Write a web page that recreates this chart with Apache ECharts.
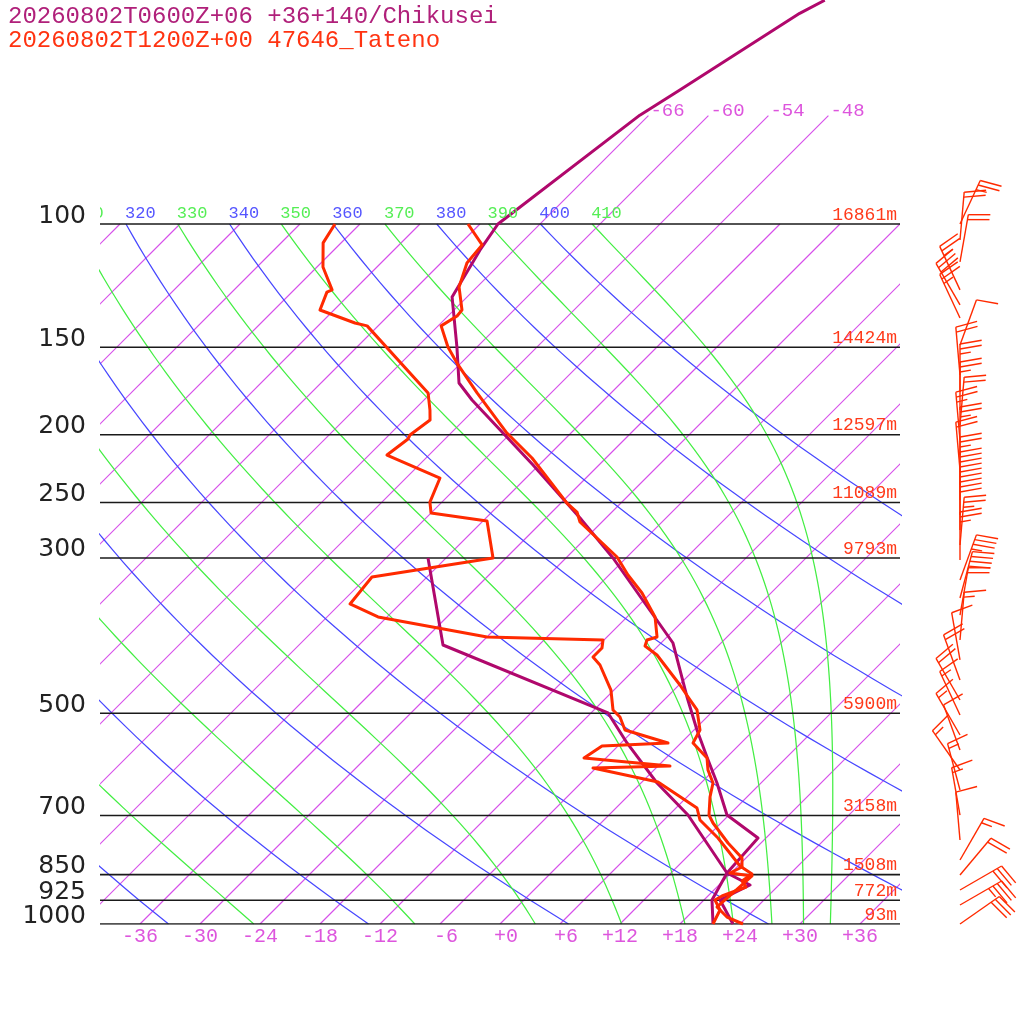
<!DOCTYPE html>
<html>
<head>
<meta charset="utf-8">
<script src="https://cdn.jsdelivr.net/npm/echarts@6.0.0/dist/echarts.min.js"></script>
<style>
  html, body { margin: 0; padding: 0; background: #fff; }
  #main { width: 1024px; height: 1024px; }
</style>
</head>
<body>
<div id="main"></div>
<script>
// titles
const titleModel = '20260802T0600Z+06 +36+140/Chikusei';
const titleObs = '20260802T1200Z+00 47646_Tateno';

// diagram frame
const pLevels = [100, 150, 200, 250, 300, 500, 700, 850, 925, 1000];
const heights = ['16861m', '14424m', '12597m', '11089m', '9793m', '5900m', '3158m', '1508m', '772m', '93m'];
const tempTicks = [-36, -30, -24, -18, -12, -6, 0, 6, 12, 18, 24, 30, 36];
const isotherms = [-108, -102, -96, -90, -84, -78, -72, -66, -60, -54, -48, -42, -36, -30, -24, -18, -12, -6, 0, 6, 12, 18, 24, 30, 36];
const topIsotherms = [-66, -60, -54, -48];
const thetaDry = [240, 260, 280, 300, 320, 340, 360, 380, 400];
const thetaMoist = [250, 270, 290, 310, 330, 350, 370, 390, 410];

// 47646 Tateno (observed)
const obsTempP = [1000, 977.3, 945.6, 903.0, 853.9, 845.6, 829.0, 804.8, 766.1, 717.3, 698.7, 658.5, 628.9, 602.6, 579.2, 551.3, 528.3, 494.6, 478.6, 455.6, 412.8, 400.7, 392.9, 389.0, 364.2, 336.6, 317.3, 299.0, 266.5, 257.9, 250.4, 215.9, 198.9, 190.5, 174.3, 158.0, 149.9, 139.8, 135.3, 132.7, 123.0, 113.7, 107.1, 100];
const obsTemp = [24.3, 22.0, 20.0, 20.2, 20.4, 17.9, 18.5, 17.6, 14.7, 11.2, 10.0, 8.3, 7.2, 5.4, 4.1, 1.2, 0.6, -1.7, -3.4, -5.9, -11.2, -13.3, -13.7, -13.0, -15.2, -18.9, -22.1, -25.0, -32.2, -33.5, -35.4, -43.4, -48.4, -50.7, -55.4, -60.4, -62.9, -65.7, -65.1, -65.2, -67.8, -69.4, -69.7, -73.2];
const obsDewP = [1000, 955.0, 924.1, 912.0, 885.4, 868.1, 848.3, 826.3, 753.6, 710.3, 682.8, 626.8, 598.6, 594.7, 579.2, 556.8, 551.3, 528.3, 506.2, 494.6, 463.2, 426.6, 415.5, 403.4, 392.9, 389.0, 364.2, 349.0, 319.4, 300.0, 265.6, 258.7, 249.6, 230.6, 213.8, 202.8, 200.2, 190.5, 184.4, 174.3, 139.8, 138.5, 132.7, 125.1, 124.2, 115.2, 106.4, 100];
const obsDew = [21.3, 20.6, 19.1, 19.4, 20.9, 19.9, 20.2, 18.2, 13.2, 9.6, 8.1, 1.6, -6.3, 1.2, -8.2, -7.6, -1.3, -6.9, -8.7, -10.1, -12.3, -15.9, -17.4, -17.4, -18.1, -30.0, -42.9, -47.0, -47.5, -37.3, -41.6, -48.0, -49.2, -50.6, -58.2, -57.7, -57.9, -57.4, -58.4, -60.3, -73.1, -74.6, -79.4, -80.5, -80.2, -83.4, -85.8, -86.5];

// Chikusei (model)
const modelTempP = [1000, 924.1, 879.6, 845.6, 753.6, 698.7, 628.9, 577.4, 528.3, 473.9, 396.8, 300.0, 263.0, 220.9, 178.4, 168.7, 149.9, 127.1, 108.9, 100, 69.9, 64.3, 50.0, 47.9];
const modelTemp = [23.3, 19.6, 21.1, 17.6, 17.2, 11.8, 7.6, 4.0, 0.3, -4.0, -10.8, -25.3, -32.6, -42.6, -55.2, -58.2, -62.0, -67.5, -69.4, -70.2, -66.9, -65.4, -61.1, -59.9];
const modelDewP = [1000, 924.1, 845.6, 698.7, 628.9, 551.3, 499.5, 399.4, 300.0];
const modelDew = [21.3, 18.8, 17.6, 7.9, 1.6, -5.4, -10.3, -33.6, -43.8];

// Tateno winds (direction deg, speed kt)
const windP = [100, 105.4, 113.3, 124.2, 130.5, 136.2, 148.9, 164.3, 173.8, 184.4, 193.7, 203.5, 213.8, 224.6, 236.0, 247.9, 260.4, 273.6, 287.5, 302.0, 322.5, 342.2, 361.9, 392.9, 419.6, 448.2, 478.6, 502.8, 537.0, 564.2, 602.6, 643.5, 698.7, 758.6, 810.2, 851.1, 894.2, 939.4, 1000];
const windDir = [25, 5, 10, 335, 330, 335, 20, 355, 0, 0, 5, 355, 0, 355, 0, 0, 0, 0, 5, 0, 20, 15, 10, 5, 350, 340, 330, 335, 330, 340, 325, 345, 350, 355, 30, 40, 60, 60, 55];
const windSpd = [25, 20, 20, 25, 30, 25, 10, 20, 25, 25, 20, 25, 25, 20, 25, 30, 30, 30, 25, 25, 35, 40, 20, 15, 10, 20, 20, 15, 15, 10, 15, 15, 15, 10, 15, 20, 30, 35, 30];

const PURPLE = '#b0086c';
const RED = '#ff2a00';
const ISO = 'rgb(214, 80, 234)';
const KAPPA = 0.2857;
const SKEW = 30.4;  // x shift (deg C) per ln(1000/p)

function skewX(t, p) { return t + SKEW * Math.log(1000 / p); }

function profile(ps, ts) { return ps.map((p, i) => [skewX(ts[i], p), p]); }

function dryLine(theta) {
  const pts = [];
  for (let i = 0; i <= 60; i++) {
    const p = 1000 * Math.pow(0.1, i / 60);
    pts.push([skewX(theta * Math.pow(p / 1000, KAPPA) - 273.15, p), p]);
  }
  return pts;
}

// pseudo-adiabat, dT/dlnp
function moistLapse(t, p) {
  const es = 6.112 * Math.exp(17.67 * (t - 273.15) / (t - 29.65));
  const rs = 0.622 * es / (p - es);
  return (287.04 * t + 2.501e6 * rs) / (1005.7 + 2.501e6 * 2.501e6 * rs * 0.622 / (287.04 * t * t));
}

function moistLine(theta) {
  let t = theta * Math.pow(0.1, KAPPA);
  let lp = Math.log(100);
  const n = 90, h = Math.log(10) / n;
  const pts = [[skewX(t - 273.15, 100), 100]];
  for (let i = 0; i < n; i++) {
    const k1 = moistLapse(t, Math.exp(lp));
    const k2 = moistLapse(t + h * k1 / 2, Math.exp(lp + h / 2));
    const k3 = moistLapse(t + h * k2 / 2, Math.exp(lp + h / 2));
    const k4 = moistLapse(t + h * k3, Math.exp(lp + h));
    t += h * (k1 + 2 * k2 + 2 * k3 + k4) / 6;
    lp += h;
    const p = Math.exp(lp);
    pts.push([skewX(t - 273.15, p), p]);
  }
  return pts;
}

function line(data, color, width, z) {
  return {
    type: 'line', data: data, symbol: 'none', silent: true, animation: false,
    clip: true, z: z, color: color,
    lineStyle: { color: color, width: width, join: 'round' }
  };
}

const series = [];

// isotherms: one custom segment per temperature, from 1000 hPa to its top level
series.push({
  type: 'custom', coordinateSystem: 'cartesian2d', silent: true, animation: false,
  clip: true, z: 1, encode: { x: 0, y: 1 },
  data: isotherms.map(t => {
    const top = topIsotherms.indexOf(t) >= 0 ? 70 : 100;
    return [skewX(t, 1000), 1000, skewX(t, top), top];
  }),
  renderItem: (params, api) => {
    const a = api.coord([api.value(0), api.value(1)]);
    const b = api.coord([api.value(2), api.value(3)]);
    return {
      type: 'line',
      shape: { x1: a[0], y1: a[1], x2: b[0], y2: b[1] },
      style: { stroke: ISO, lineWidth: 1.2, fill: null, opacity: 1 }
    };
  }
});
thetaDry.forEach(th => series.push(line(dryLine(th), '#4848ff', 1.25, 1)));
thetaMoist.forEach(th => series.push(line(moistLine(th), '#44ee44', 1.25, 1)));
pLevels.forEach(p => series.push(line([[-40, p], [40, p]], '#1a1a1a', 1.6, 2)));

series.push(line(profile(modelTempP, modelTemp), PURPLE, 3, 5));
series.push(line(profile(modelDewP, modelDew), PURPLE, 3, 5));
series.push(line(profile(obsTempP, obsTemp), RED, 3, 6));
series.push(line(profile(obsDewP, obsDew), RED, 3, 6));

const mono = '"Liberation Mono", "DejaVu Sans Mono", monospace';

function textSeries(data, clip, make) {
  return {
    type: 'custom', coordinateSystem: 'cartesian2d', silent: true, animation: false,
    clip: clip, z: 8, encode: { x: 0, y: 1 }, data: data,
    renderItem: (params, api) => {
      const pt = api.coord([api.value(0), api.value(1)]);
      return make(pt, params.dataIndex);
    }
  };
}

// pressure labels
series.push(textSeries(pLevels.map(p => [-40, p]), false, (pt, i) => ({
  type: 'text', x: pt[0] - 14, y: pt[1] - 8,
  style: { text: String(pLevels[i]), align: 'right', verticalAlign: 'middle', fontSize: 25, fontFamily: '"DejaVu Sans", sans-serif', fill: '#222' }
})));
// heights
series.push(textSeries(pLevels.map(p => [40, p]), false, (pt, i) => ({
  type: 'text', x: pt[0] - 3, y: pt[1] - 9,
  style: { text: heights[i], align: 'right', verticalAlign: 'middle', fontSize: 18, fontFamily: mono, fill: '#ff3a1a' }
})));
// temperature labels
series.push(textSeries(tempTicks.map(t => [t, 1000]), false, (pt, i) => ({
  type: 'text', x: pt[0] + 18, y: pt[1] + 13,
  style: { text: (tempTicks[i] >= 0 ? '+' : '') + tempTicks[i], align: 'right', verticalAlign: 'middle', fontSize: 20, fontFamily: mono, fill: '#dd55dd' }
})));
// isotherm labels at the top
series.push(textSeries(topIsotherms.map(t => [skewX(t, 70), 70]), false, (pt, i) => ({
  type: 'text', x: pt[0] + 2, y: pt[1] - 5,
  style: { text: String(topIsotherms[i]), align: 'left', verticalAlign: 'middle', fontSize: 19, fontFamily: mono, fill: '#dd55dd' }
})));
// theta labels on 100 hPa
const thetaAll = thetaDry.map(th => [th, '#5555ff']).concat(thetaMoist.map(th => [th, '#55ee55']));
series.push(textSeries(thetaAll.map(d => [skewX(d[0] * Math.pow(0.1, KAPPA) - 273.15, 100), 100]), true, (pt, i) => ({
  type: 'text', x: pt[0] - 1, y: pt[1] - 11,
  style: { text: String(thetaAll[i][0]), align: 'left', verticalAlign: 'middle', fontSize: 17, fontFamily: mono, fill: thetaAll[i][1] }
})));

// wind barbs
series.push({
  type: 'custom', coordinateSystem: 'cartesian2d', silent: true, animation: false,
  clip: false, z: 7, encode: { x: 0, y: 1 },
  data: windP.map(p => [46, p]),
  renderItem: (params, api) => {
    const i = params.dataIndex;
    const base = api.coord([api.value(0), api.value(1)]);
    const d = windDir[i] * Math.PI / 180;
    const ux = Math.sin(d), uy = -Math.cos(d);
    const f = d + 80 * Math.PI / 180;
    const fx = Math.sin(f), fy = -Math.cos(f);
    const L = 48;
    const st = { stroke: RED, lineWidth: 1.4 };
    const kids = [{ type: 'line', shape: { x1: base[0], y1: base[1], x2: base[0] + ux * L, y2: base[1] + uy * L }, style: st }];
    let spd = Math.round(windSpd[i] / 5) * 5;
    let pos = L;
    while (spd >= 50) {
      const ax = base[0] + ux * pos, ay = base[1] + uy * pos;
      const bx = base[0] + ux * (pos - 7), by = base[1] + uy * (pos - 7);
      kids.push({ type: 'polygon', shape: { points: [[ax, ay], [ax + fx * 22, ay + fy * 22], [bx, by]] }, style: { fill: RED } });
      pos -= 9; spd -= 50;
    }
    while (spd >= 10) {
      const ax = base[0] + ux * pos, ay = base[1] + uy * pos;
      kids.push({ type: 'line', shape: { x1: ax, y1: ay, x2: ax + fx * 22, y2: ay + fy * 22 }, style: st });
      pos -= 5; spd -= 10;
    }
    if (spd >= 5) {
      if (pos === L) pos -= 5;
      const ax = base[0] + ux * pos, ay = base[1] + uy * pos;
      kids.push({ type: 'line', shape: { x1: ax, y1: ay, x2: ax + fx * 11, y2: ay + fy * 11 }, style: st });
    }
    return { type: 'group', children: kids };
  }
});

const chart = echarts.init(document.getElementById('main'));
chart.setOption({
  animation: false,
  backgroundColor: '#fff',
  grid: { left: 100, right: 124, top: 0, bottom: 100 },
  xAxis: { type: 'value', min: -40, max: 40, show: false },
  yAxis: { type: 'log', min: 1000 * Math.exp(-924 / 304), max: 1000, inverse: true, show: false },
  graphic: [
    { type: 'text', left: 8, top: 5, style: { text: titleModel, fontSize: 24, fontFamily: mono, fill: '#b0207a' } },
    { type: 'text', left: 8, top: 29, style: { text: titleObs, fontSize: 24, fontFamily: mono, fill: '#ff3311' } }
  ],
  series: series
});
</script>
</body>
</html>
